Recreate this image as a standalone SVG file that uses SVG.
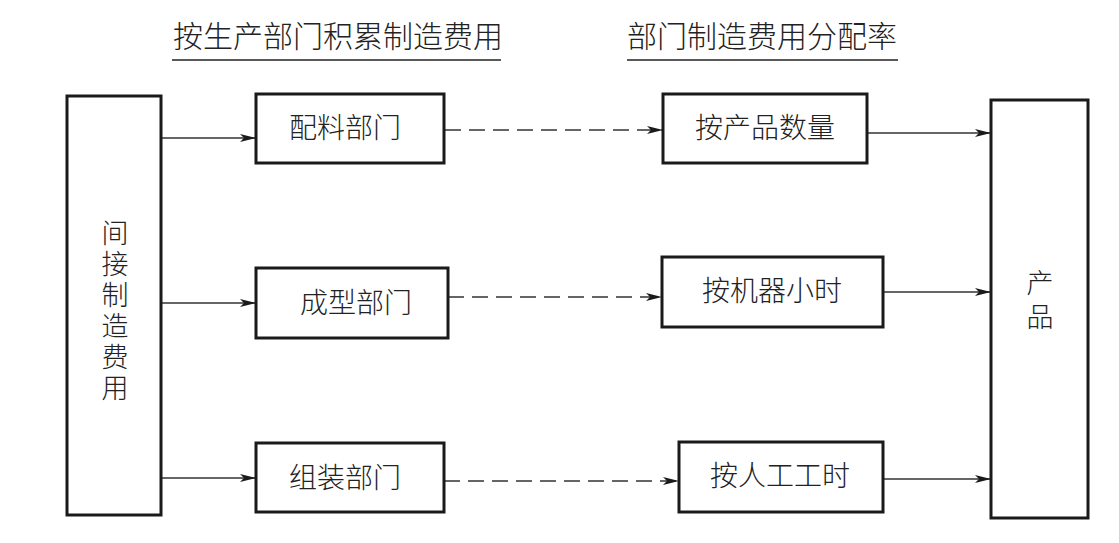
<svg xmlns="http://www.w3.org/2000/svg" width="1119" height="543" viewBox="0 0 1119 543">
<style>
.box{fill:#fff;stroke:#1a1a1a;stroke-width:3}
.t{font-family:"Noto Sans CJK SC","Noto Sans CJK JP",sans-serif;font-size:28px;fill:#222;font-weight:300}
.v{writing-mode:vertical-rl}
.h{font-family:"Noto Sans CJK SC","Noto Sans CJK JP",sans-serif;font-size:30px;fill:#222;font-weight:300}
.c{stroke:#333;stroke-width:1.3;fill:none;marker-end:url(#ah)}
.d{stroke-dasharray:16 8}
.u{stroke:#222;stroke-width:1.5}
</style>
<defs>
<marker id="ah" viewBox="0 0 16 8" refX="16" refY="4" markerWidth="16" markerHeight="8" markerUnits="userSpaceOnUse" orient="auto">
<path d="M0,0 L16,4 L0,8 L4,4 Z" fill="#1a1a1a"/>
</marker>
</defs>
<rect width="1119" height="543" fill="#fff"/>
<g id="headers">
<text class="h" x="338" y="47" text-anchor="middle">按生产部门积累制造费用</text>
<line class="u" x1="172" y1="60" x2="501" y2="60"/>
<text class="h" x="762" y="47" text-anchor="middle">部门制造费用分配率</text>
<line class="u" x1="627" y1="60" x2="898" y2="60"/>
</g>
<g id="connectors">
<line class="c" x1="161" y1="138" x2="256" y2="138"/>
<line class="c" x1="161" y1="303" x2="256" y2="303"/>
<line class="c" x1="161" y1="478" x2="256" y2="478"/>
<line class="c d" x1="445" y1="130" x2="663" y2="130"/>
<line class="c d" x1="448" y1="297" x2="662" y2="297"/>
<line class="c d" x1="444" y1="481" x2="679" y2="481"/>
<line class="c" x1="867" y1="133" x2="991" y2="133"/>
<line class="c" x1="883" y1="292" x2="991" y2="292"/>
<line class="c" x1="883" y1="479" x2="991" y2="479"/>
</g>
<g id="n-indirect">
<rect class="box" x="67" y="96" width="94" height="419"/>
<text class="t v" x="115" y="312" text-anchor="middle" letter-spacing="4" style="font-size:27px">间接制造费用</text>
</g>
<g id="n-peiliao">
<rect class="box" x="256" y="94" width="188" height="69"/>
<text class="t" x="345" y="138" text-anchor="middle">配料部门</text>
</g>
<g id="n-chengxing">
<rect class="box" x="256" y="268" width="192" height="70"/>
<text class="t" x="356" y="313" text-anchor="middle">成型部门</text>
</g>
<g id="n-zuzhuang">
<rect class="box" x="256" y="443" width="188" height="69"/>
<text class="t" x="345" y="488" text-anchor="middle">组装部门</text>
</g>
<g id="n-shuliang">
<rect class="box" x="663" y="94" width="204" height="69"/>
<text class="t" x="765" y="138" text-anchor="middle">按产品数量</text>
</g>
<g id="n-jiqi">
<rect class="box" x="662" y="257" width="221" height="70"/>
<text class="t" x="772" y="301" text-anchor="middle">按机器小时</text>
</g>
<g id="n-rengong">
<rect class="box" x="679" y="442" width="204" height="70"/>
<text class="t" x="780" y="486" text-anchor="middle">按人工工时</text>
</g>
<g id="n-product">
<rect class="box" x="991" y="100" width="97" height="418"/>
<text class="t v" x="1040" y="303" text-anchor="middle" letter-spacing="7" style="font-size:27px">产品</text>
</g>
</svg>
